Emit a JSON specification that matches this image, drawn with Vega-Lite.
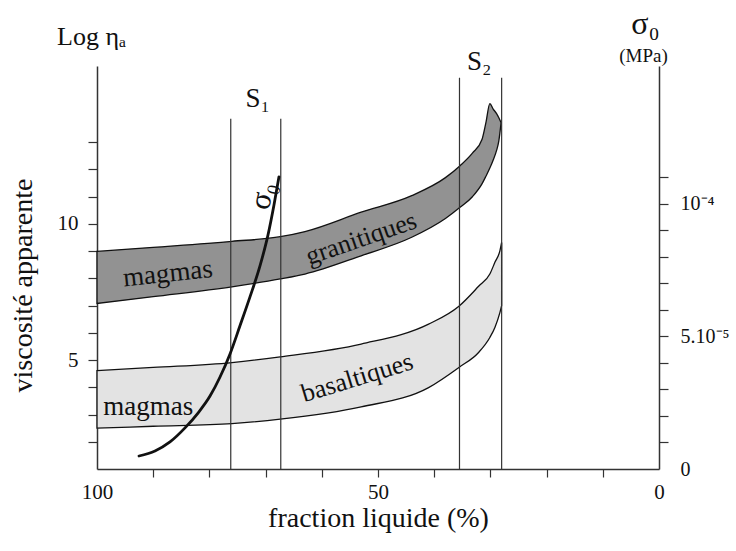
{
  "$schema": "https://vega.github.io/schema/vega-lite/v6.json",
  "width": 562,
  "height": 403,
  "autosize": {"type": "none"},
  "padding": {"left": 97, "top": 66, "right": 77, "bottom": 82},
  "background": "white",
  "title": {"text": "Log ηₐ", "anchor": "start", "frame": "group", "dx": -40, "dy": 43, "offset": 0, "font": "Liberation Serif", "fontSize": 26, "fontWeight": "normal", "color": "#111"},
  "config": {"view": {"stroke": null}, "font": "Liberation Serif"},
  "datasets": {
    "granite": [
      {"f": 100, "v": 8.99, "lo": 7.08},
      {"f": 90, "v": 9.14, "lo": 7.33},
      {"f": 76, "v": 9.36, "lo": 7.69},
      {"f": 67.4, "v": 9.53, "lo": 7.98},
      {"f": 63, "v": 9.72, "lo": 8.16},
      {"f": 53, "v": 10.43, "lo": 8.83},
      {"f": 44, "v": 11.04, "lo": 9.51},
      {"f": 38, "v": 11.7, "lo": 10.2},
      {"f": 35.4, "v": 12.14, "lo": 10.61},
      {"f": 33.2, "v": 12.6, "lo": 11.0},
      {"f": 31.5, "v": 13.1, "lo": 11.47},
      {"f": 30.8, "v": 13.72, "lo": 11.75},
      {"f": 30.1, "v": 14.42, "lo": 12.05},
      {"f": 29.5, "v": 14.22, "lo": 12.35},
      {"f": 28.9, "v": 14.05, "lo": 12.7},
      {"f": 28.5, "v": 13.9, "lo": 13.05},
      {"f": 28.1, "v": 13.72, "lo": 13.72}
    ],
    "basalt": [
      {"f": 100, "v": 4.61, "lo": 2.5},
      {"f": 90, "v": 4.73, "lo": 2.57},
      {"f": 76, "v": 4.91, "lo": 2.67},
      {"f": 67.4, "v": 5.12, "lo": 2.83},
      {"f": 53, "v": 5.59, "lo": 3.28},
      {"f": 41, "v": 6.32, "lo": 3.99},
      {"f": 35.6, "v": 6.98, "lo": 4.73},
      {"f": 32.1, "v": 7.71, "lo": 5.28},
      {"f": 30.1, "v": 8.16, "lo": 5.83},
      {"f": 29.2, "v": 8.59, "lo": 6.2},
      {"f": 28.3, "v": 9.02, "lo": 6.75},
      {"f": 28.0, "v": 9.32, "lo": 7.0}
    ],
    "sigma": [
      {"f": 92.53, "s": 0.49},
      {"f": 89.68, "s": 0.68},
      {"f": 87.01, "s": 1.02},
      {"f": 84.34, "s": 1.55},
      {"f": 82.03, "s": 2.11},
      {"f": 79.89, "s": 2.75},
      {"f": 78.11, "s": 3.47},
      {"f": 76.33, "s": 4.34},
      {"f": 74.56, "s": 5.4},
      {"f": 72.78, "s": 6.49},
      {"f": 71.0, "s": 7.66},
      {"f": 69.57, "s": 8.83},
      {"f": 68.51, "s": 9.96},
      {"f": 67.62, "s": 11.02}
    ],
    "seuils": [
      {"f": 76.2, "v": 13.86},
      {"f": 67.3, "v": 13.86},
      {"f": 35.5, "v": 15.37},
      {"f": 28.0, "v": 15.37}
    ]
  },
  "encoding": {
    "x": {
      "field": "f",
      "type": "quantitative",
      "scale": {"domain": [0, 100], "reverse": true, "nice": false, "zero": false},
      "axis": {
        "title": "fraction liquide (%)",
        "titleFontSize": 28,
        "titleFontWeight": "normal",
        "titleFont": "Liberation Serif",
        "titleColor": "#111",
        "titlePadding": 2,
        "values": [0, 10, 20, 30, 40, 50, 60, 70, 80, 90, 100],
        "labelExpr": "datum.value % 50 == 0 ? datum.value : ''",
        "labelFontSize": 21,
        "labelFont": "Liberation Serif",
        "labelColor": "#111",
        "labelPadding": 4,
        "labelFlush": false,
        "labelOverlap": false,
        "grid": false,
        "domainColor": "#333",
        "domainWidth": 1.5,
        "tickColor": "#333",
        "tickWidth": 1.2,
        "tickSize": 8,
        "tickOpacity": {"condition": {"test": "datum.value == 0 || datum.value == 100", "value": 0}, "value": 1}
      }
    }
  },
  "layer": [
    {
      "encoding": {
        "y": {
          "field": "v",
          "type": "quantitative",
          "scale": {"domain": [1, 15.8], "nice": false, "zero": false},
          "axis": {
            "title": "viscosité apparente",
            "titleFontSize": 28,
            "titleFontWeight": "normal",
            "titleFont": "Liberation Serif",
            "titleColor": "#111",
            "titleY": 219,
            "titlePadding": 20,
            "values": [2, 3, 4, 5, 6, 7, 8, 9, 10, 11, 12, 13],
            "labelExpr": "datum.value == 5 || datum.value == 10 ? datum.value : ''",
            "labelFontSize": 21,
            "labelFont": "Liberation Serif",
            "labelColor": "#111",
            "labelPadding": 10,
            "labelOverlap": false,
            "grid": false,
            "domainColor": "#333",
            "domainWidth": 1.5,
            "tickColor": "#333",
            "tickWidth": 1.2,
            "tickSize": 9
          }
        }
      },
      "layer": [
        {
          "data": {"name": "granite"},
          "mark": {"type": "area", "fill": "#929292", "stroke": "#111", "strokeWidth": 1.3, "interpolate": "monotone"},
          "encoding": {"y2": {"field": "lo"}}
        },
        {
          "data": {"name": "basalt"},
          "mark": {"type": "area", "fill": "#e3e3e3", "stroke": "#111", "strokeWidth": 1.3, "interpolate": "monotone"},
          "encoding": {"y2": {"field": "lo"}}
        },
        {
          "data": {"name": "seuils"},
          "mark": {"type": "rule", "stroke": "#333", "strokeWidth": 1.2},
          "encoding": {"y2": {"datum": 1}}
        },
        {
          "data": {"values": [
            {"t": "S₁", "f": 71.4, "v": 14.6},
            {"t": "S₂", "f": 32.0, "v": 15.93},
            {"t": "magmas", "f": 90.9, "v": 3.29}
          ]},
          "mark": {"type": "text", "font": "Liberation Serif", "fontSize": 27, "color": "#111", "align": "center", "baseline": "middle"},
          "encoding": {"text": {"field": "t"}}
        },
        {
          "data": {"values": [{"t": "magmas", "f": 87.4, "v": 8.17}]},
          "mark": {"type": "text", "font": "Liberation Serif", "fontSize": 27, "color": "#111", "angle": -6, "align": "center", "baseline": "middle"},
          "encoding": {"text": {"field": "t"}}
        },
        {
          "data": {"values": [{"t": "granitiques", "f": 53.0, "v": 9.46}]},
          "mark": {"type": "text", "font": "Liberation Serif", "fontSize": 26, "color": "#111", "angle": -19, "align": "center", "baseline": "middle"},
          "encoding": {"text": {"field": "t"}}
        },
        {
          "data": {"values": [{"t": "basaltiques", "f": 53.7, "v": 4.35}]},
          "mark": {"type": "text", "font": "Liberation Serif", "fontSize": 26, "color": "#111", "angle": -17, "align": "center", "baseline": "middle"},
          "encoding": {"text": {"field": "t"}}
        },
        {
          "data": {"values": [{"t": "σ₀", "f": 70.5, "v": 11.04}]},
          "mark": {"type": "text", "font": "Liberation Serif", "fontSize": 31, "color": "#111", "angle": -76, "align": "center", "baseline": "middle"},
          "encoding": {"text": {"field": "t"}}
        }
      ]
    },
    {
      "data": {"name": "sigma"},
      "mark": {"type": "line", "color": "#111", "strokeWidth": 2.8, "interpolate": "monotone", "strokeCap": "round"},
      "encoding": {
        "x": {
          "field": "f",
          "type": "quantitative",
          "axis": {
            "orient": "top",
            "title": "σ₀",
            "titleFontSize": 32,
            "titleFontWeight": "normal",
            "titleFont": "Liberation Serif",
            "titleColor": "#111",
            "titleX": 548,
            "titleY": -33,
            "titleAlign": "center",
            "titleBaseline": "alphabetic",
            "domain": false,
            "ticks": false,
            "labels": false,
            "grid": false
          }
        },
        "y": {
          "field": "s",
          "type": "quantitative",
          "scale": {"domain": [0, 15.2], "nice": false, "zero": false},
          "axis": {
            "orient": "right",
            "title": "(MPa)",
            "titleFontSize": 19,
            "titleFontWeight": "normal",
            "titleFont": "Liberation Serif",
            "titleColor": "#111",
            "titleAngle": 0,
            "titleAlign": "center",
            "titleBaseline": "middle",
            "titleX": -16,
            "titleY": -11,
            "values": [0, 1, 2, 3, 4, 5, 6, 7, 8, 9, 10, 11],
            "labelExpr": "datum.value == 0 ? '0' : datum.value == 5 ? '5.10⁻⁵' : datum.value == 10 ? '10⁻⁴' : ''",
            "labelFontSize": 20,
            "labelFont": "Liberation Serif",
            "labelColor": "#111",
            "labelPadding": 12,
            "labelOverlap": false,
            "grid": false,
            "domainColor": "#333",
            "domainWidth": 1.5,
            "tickColor": "#333",
            "tickWidth": 1.2,
            "tickSize": 9,
            "tickOpacity": {"condition": {"test": "datum.value == 0", "value": 0}, "value": 1}
          }
        }
      }
    }
  ],
  "resolve": {"scale": {"y": "independent"}, "axis": {"x": "independent"}}
}
